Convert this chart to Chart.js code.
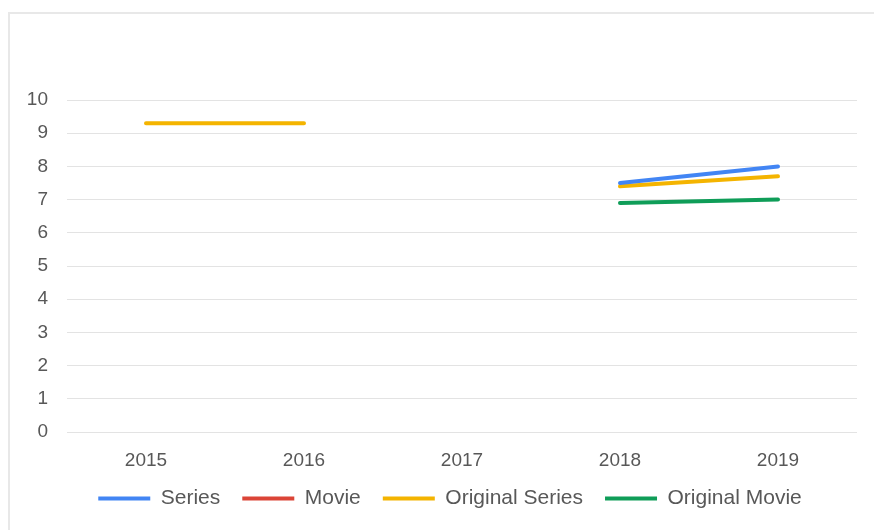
<!DOCTYPE html>
<html>
<head>
<meta charset="utf-8">
<script src="https://cdn.jsdelivr.net/npm/chart.js@4.4.1/dist/chart.umd.min.js"></script>
<style>
  html, body { margin: 0; padding: 0; background: #fff; }
  #wrap { position: relative; width: 874px; height: 530px; }
  #marco {
    position: absolute; left: 8px; top: 12px; width: 880px; height: 530px;
    border-left: 2px solid #e8e8e8; border-top: 2px solid #e8e8e8;
    pointer-events: none;
  }
</style>
</head>
<body>
<div id="wrap">
  <canvas id="grafico" width="874" height="530"></canvas>
  <div id="marco"></div>
</div>
<script>
// datos
const anios = ['2015', '2016', '2017', '2018', '2019'];
const series = [null, null, null, 7.5, 8.0];
const movie = [null, null, null, null, null];
const originalSeries = [9.3, 9.3, null, 7.4, 7.7];
const originalMovie = [null, null, null, 6.9, 7.0];
const ticksY = [0, 1, 2, 3, 4, 5, 6, 7, 8, 9, 10];

const colores = ['#4285f4', '#db4437', '#f4b400', '#0f9d58'];
const nombres = ['Series', 'Movie', 'Original Series', 'Original Movie'];
const valores = [series, movie, originalSeries, originalMovie];

const fuente = { family: 'Liberation Sans', size: 19 };

new Chart(document.getElementById('grafico'), {
  type: 'line',
  data: {
    labels: anios,
    datasets: nombres.map((n, i) => ({
      label: n,
      data: valores[i],
      borderColor: colores[i],
      backgroundColor: colores[i],
      borderWidth: 4,
      pointRadius: 0,
      borderCapStyle: 'round',
      spanGaps: false,
      tension: 0
    }))
  },
  options: {
    responsive: false,
    animation: false,
    layout: { padding: { left: 26, right: 0, top: 100, bottom: 11 } },
    plugins: {
      tooltip: { enabled: false },
      legend: {
        position: 'bottom',
        labels: {
          boxWidth: 52,
          boxHeight: 4,
          padding: 22,
          color: '#585858',
          font: { family: 'Liberation Sans', size: 21 },
          // linea fina, sin borde extra
          generateLabels: chart =>
            Chart.defaults.plugins.legend.labels.generateLabels(chart)
              .map(l => Object.assign(l, { lineWidth: 0 }))
        }
      }
    },
    scales: {
      x: {
        offset: true,
        grid: { display: false, drawTicks: false },
        border: { display: false },
        ticks: { color: '#585858', font: fuente, padding: 17 },
        afterFit: s => { s.height = 34; }
      },
      y: {
        min: 0,
        max: 10,
        afterBuildTicks: s => { s.ticks = ticksY.map(v => ({ value: v })); },
        grid: { color: '#e3e3e3', lineWidth: 1, drawTicks: false },
        border: { display: false },
        ticks: { color: '#585858', font: fuente, padding: 19 },
        afterFit: s => { s.width = 41; }
      },
      // eje vacio a la derecha, solo deja margen
      margen: {
        position: 'right',
        grid: { display: false, drawTicks: false },
        border: { display: false },
        ticks: { display: false },
        afterFit: s => { s.width = 17; }
      }
    }
  }
});
</script>
</body>
</html>
